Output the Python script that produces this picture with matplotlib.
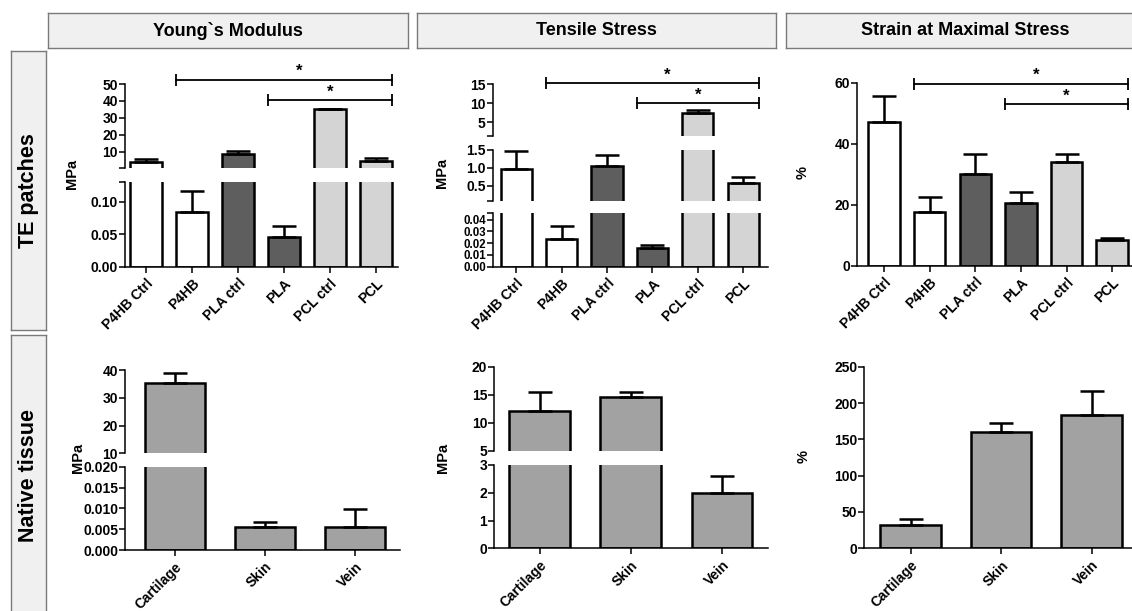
import numpy as np
import matplotlib
matplotlib.use('Agg')
import matplotlib.pyplot as plt

# Canvas in pixels (figure is laid out in pixel coords)
W, H = 1132, 611

plt.rcParams['font.family'] = ['Liberation Sans', 'DejaVu Sans']
plt.rcParams['font.weight'] = 'bold'
plt.rcParams['axes.linewidth'] = 1.1

# ---- data: TE patches ----
te_groups = ['P4HB Ctrl', 'P4HB', 'PLA ctrl', 'PLA', 'PCL ctrl', 'PCL']
te_colors = ['white', 'white', '#5e5e5e', '#5e5e5e', '#d4d4d4', '#d4d4d4']

te_young_mean = [3.7, 0.085, 8.5, 0.046, 35.0, 4.5]
te_young_err = [1.9, 0.032, 1.9, 0.017, 0.4, 1.6]

te_tensile_mean = [0.97, 0.0233, 1.05, 0.0157, 7.4, 0.58]
te_tensile_err = [0.49, 0.0116, 0.29, 0.003, 0.75, 0.16]

te_strain_mean = [47.1, 17.5, 30.0, 20.5, 33.9, 8.4]
te_strain_err = [8.6, 5.1, 6.6, 3.8, 2.7, 0.8]

# significance brackets: (first bar, last bar), star x, bracket heights per panel
sig_pairs = [(1, 5), (3, 5)]
sig_star_x = [3.33, 4.0]
sig_young_y = [52.4, 40.5]
sig_tensile_y = [15.2, 10.0]
sig_strain_y = [59.6, 53.0]

# ---- data: native tissue ----
native_groups = ['Cartilage', 'Skin', 'Vein']
native_color = '#a2a2a2'

native_young_mean = [35.2, 0.0056, 0.00545]
native_young_err = [3.6, 0.0011, 0.0044]

native_tensile_mean = [12.1, 14.6, 2.0]
native_tensile_err = [3.4, 0.9, 0.6]

native_strain_mean = [32, 160, 184]
native_strain_err = [8, 13, 32]

fig = plt.figure(figsize=(W / 100, H / 100), dpi=100)


def px_axes(x0, y0, x1, y1):
    return fig.add_axes([x0 / W, 1 - y1 / H, (x1 - x0) / W, (y1 - y0) / H])


def draw_panel(segments, x_px, xlim, means, errs, colors, labels, width, ylabel, ylabel_xy):
    x = np.arange(len(means))
    means = np.asarray(means, dtype=float)
    errs = np.asarray(errs, dtype=float)
    colors = np.array(colors if isinstance(colors, list) else [colors] * len(means))
    axes = []
    for i, seg in enumerate(segments):
        ylim, top, bottom, ticks, ticklabels = seg[:5]
        lsize = seg[5] if len(seg) > 5 else 10
        last = i == len(segments) - 1
        ax = px_axes(x_px[0], top, x_px[1], bottom)
        ax.patch.set_alpha(0)
        # in upper pieces of a broken axis only the bars reaching that piece are drawn
        keep = np.ones(len(means), bool) if last else means > ylim[0]
        keep_err = np.ones(len(means), bool) if last else (means + errs) > ylim[0]
        ax.bar(x[keep], means[keep], width, color=list(colors[keep]),
               edgecolor='black', linewidth=1.8)
        ax.errorbar(x[keep_err], means[keep_err],
                    yerr=[np.zeros(keep_err.sum()), errs[keep_err]], fmt='none',
                    ecolor='black', elinewidth=1.8, capsize=8.5, capthick=1.8)
        ax.set_xlim(xlim)
        ax.set_ylim(ylim)
        ax.set_yticks(ticks)
        ax.set_yticklabels(ticklabels)
        ax.spines['top'].set_visible(False)
        ax.spines['right'].set_visible(False)
        ax.tick_params(axis='y', direction='out', length=4, width=1.1, pad=1, labelsize=lsize)
        if last:
            ax.set_xticks(x)
            ax.set_xticklabels(labels, rotation=45, ha='right', rotation_mode='anchor')
            ax.tick_params(axis='x', direction='out', length=4, width=1.1, pad=3, labelsize=10)
        else:
            ax.spines['bottom'].set_visible(False)
            ax.set_xticks([])
        axes.append(ax)
    fig.text(ylabel_xy[0] / W, 1 - ylabel_xy[1] / H, ylabel, rotation=90,
             ha='center', va='center', fontsize=10.5, fontweight='bold')
    return axes


def draw_brackets(ax, heights, width):
    for (a, b), sx, y in zip(sig_pairs, sig_star_x, heights):
        ax.plot([a - width / 2, b + width / 2], [y, y], color='black', lw=1.3,
                marker='|', markersize=9, markeredgewidth=1.3, clip_on=False)
        ax.annotate('*', (sx, y), xytext=(0, 0.5), textcoords='offset points',
                    ha='center', va='bottom', fontsize=12, fontweight='bold',
                    annotation_clip=False)


def box_axes(x0, y0, x1, y1):
    bax = px_axes(x0, y0, x1, y1)
    bax.set_facecolor('#f0f0f0')
    bax.set_xticks([])
    bax.set_yticks([])
    for s in bax.spines.values():
        s.set_color('#7a7a7a')
        s.set_linewidth(1.0)
    return bax


# ---- header boxes ----
for title, (x0, x1) in zip(['Young`s Modulus', 'Tensile Stress', 'Strain at Maximal Stress'],
                           [(48, 408), (417, 776), (786, 1145)]):
    hax = box_axes(x0, 13, x1, 48)
    hax.text(0.5, 0.5, title, transform=hax.transAxes, ha='center', va='center',
             fontsize=13, fontweight='bold')

for label, (y0, y1) in zip(['TE patches', 'Native tissue'], [(51, 330), (335, 615)]):
    rax = box_axes(11, y0, 46, y1)
    rax.text(0.5, 0.5, label, transform=rax.transAxes, rotation=90, ha='center',
             va='center', fontsize=15.5, fontweight='bold')

bw = 0.69

# ---- TE patches: Young's modulus ----
yax = draw_panel(
    [((0.35, 50), 84, 168, [0.35, 10, 20, 30, 40, 50], ['', '10', '20', '30', '40', '50']),
     ((0, 0.131), 181.7, 266.7, [0, 0.05, 0.10, 0.131], ['0.00', '0.05', '0.10', ''])],
    (125, 398), (-0.457, 5.478), te_young_mean, te_young_err, te_colors, te_groups, bw,
    'MPa', (72, 174))
draw_brackets(yax[0], sig_young_y, bw)

# ---- TE patches: tensile stress ----
tax = draw_panel(
    [((1.5, 15), 84, 135.7, [1.5, 5, 10, 15], ['', '5', '10', '15']),
     ((0.075, 1.5), 149.7, 201, [0.075, 0.5, 1.0, 1.5], ['', '0.5', '1.0', '1.5']),
     ((0, 0.0455), 213.3, 266.7, [0, 0.01, 0.02, 0.03, 0.04, 0.0455],
      ['0.00', '0.01', '0.02', '0.03', '0.04', ''], 8.3)],
    (492.7, 767.7), (-0.52, 5.54), te_tensile_mean, te_tensile_err, te_colors, te_groups, bw,
    'MPa', (441.7, 173))
draw_brackets(tax[0], sig_tensile_y, bw)

# ---- TE patches: strain ----
sax = draw_panel(
    [((0, 60), 82.7, 265.7, [0, 20, 40, 60], ['0', '20', '40', '60'])],
    (857.3, 1135), (-0.585, 5.5), te_strain_mean, te_strain_err, te_colors, te_groups, bw,
    '%', (803, 173))
draw_brackets(sax[0], sig_strain_y, bw)

# ---- native tissue ----
nw = 0.667
draw_panel(
    [((10, 40), 370, 453.3, [10, 20, 30, 40], ['10', '20', '30', '40']),
     ((0, 0.02), 466.7, 550, [0, 0.005, 0.010, 0.015, 0.020],
      ['0.000', '0.005', '0.010', '0.015', '0.020'])],
    (125, 400), (-0.556, 2.5), native_young_mean, native_young_err, native_color,
    native_groups, nw, 'MPa', (78, 458))

draw_panel(
    [((5, 20), 366.7, 450.7, [5, 10, 15, 20], ['5', '10', '15', '20']),
     ((0, 3), 465, 548.3, [0, 1, 2, 3], ['0', '1', '2', '3'])],
    (494.3, 768.3), (-0.5, 2.51), native_tensile_mean, native_tensile_err, native_color,
    native_groups, nw, 'MPa', (442.7, 458))

draw_panel(
    [((0, 250), 366.7, 548.3, [0, 50, 100, 150, 200, 250], ['0', '50', '100', '150', '200', '250'])],
    (864.3, 1137), (-0.51, 2.5), native_strain_mean, native_strain_err, native_color,
    native_groups, nw, '%', (803.3, 456.7))

fig.savefig('out.png', dpi=100)
